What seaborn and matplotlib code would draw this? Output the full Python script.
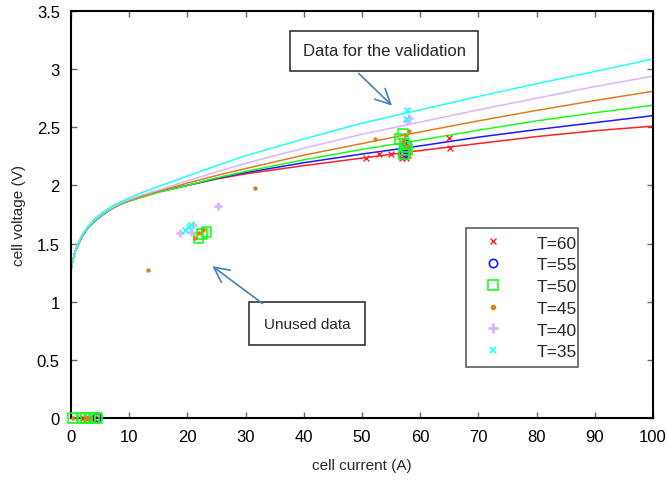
import numpy as np
import pandas as pd
import seaborn as sns
import matplotlib
matplotlib.use("Agg")
import matplotlib.pyplot as plt
from matplotlib.lines import Line2D

# ---- model curves: cell voltage vs current for each temperature ----
curve_current = [0, 0.3, 0.7, 1, 1.5, 2, 3, 4, 5.5, 7, 9, 12, 15, 20, 25, 30,
                 40, 50, 60, 70, 80, 90, 100]
curve_T35 = [1.27, 1.35, 1.43, 1.47, 1.53, 1.58, 1.65, 1.71, 1.77, 1.82, 1.87, 1.935,
             1.99, 2.08, 2.17, 2.255, 2.40, 2.535, 2.65, 2.765, 2.875, 2.98, 3.087]
curve_T40 = [1.27, 1.35, 1.43, 1.47, 1.53, 1.58, 1.65, 1.70, 1.76, 1.81, 1.86, 1.915,
             1.96, 2.04, 2.115, 2.19, 2.32, 2.44, 2.545, 2.65, 2.75, 2.85, 2.94]
curve_T45 = [1.27, 1.35, 1.43, 1.47, 1.53, 1.58, 1.65, 1.70, 1.76, 1.81, 1.855, 1.905,
             1.95, 2.02, 2.085, 2.145, 2.26, 2.36, 2.46, 2.555, 2.645, 2.73, 2.81]
curve_T50 = [1.27, 1.35, 1.43, 1.46, 1.52, 1.57, 1.64, 1.69, 1.75, 1.80, 1.85, 1.895,
             1.94, 2.00, 2.065, 2.12, 2.22, 2.31, 2.39, 2.475, 2.555, 2.625, 2.69]
curve_T55 = [1.27, 1.35, 1.43, 1.46, 1.52, 1.57, 1.64, 1.69, 1.75, 1.80, 1.85, 1.90,
             1.945, 2.00, 2.06, 2.11, 2.195, 2.27, 2.34, 2.415, 2.48, 2.54, 2.60]
curve_T60 = [1.27, 1.35, 1.43, 1.46, 1.52, 1.57, 1.64, 1.69, 1.75, 1.80, 1.85, 1.90,
             1.945, 2.00, 2.055, 2.10, 2.17, 2.235, 2.30, 2.36, 2.42, 2.47, 2.51]

# ---- measured points ----
meas_T60_I = [2.0, 2.5, 3.0, 3.5, 4.0, 50.7, 52.9, 54.9, 56.8, 57.2, 57.6, 57.9, 57.4, 65.1, 64.9]
meas_T60_V = [0, 0, 0, 0, 0, 2.235, 2.27, 2.27, 2.24, 2.25, 2.24, 2.26, 2.28, 2.32, 2.41]
meas_T55_I = [4.5, 57.0, 57.3, 57.6, 57.2, 57.8]
meas_T55_V = [0, 2.26, 2.29, 2.31, 2.33, 2.35]
meas_T50_I = [0.3, 1.8, 2.5, 3.2, 3.9, 4.5, 21.9, 22.5, 23.3, 56.6, 57.0, 57.3, 57.8, 57.5, 57.2]
meas_T50_V = [0, 0, 0, 0, 0, 0, 1.55, 1.58, 1.60, 2.40, 2.44, 2.36, 2.30, 2.33, 2.27]
meas_T45_I = [0.3, 2.5, 3.0, 13.3, 21.3, 22.0, 22.6, 31.6, 52.2, 57.4, 58.0, 57.8, 57.0]
meas_T45_V = [0, 0, 0, 1.27, 1.55, 1.59, 1.62, 1.98, 2.40, 2.43, 2.47, 2.34, 2.38]
meas_T40_I = [18.8, 20.6, 21.0, 25.2, 57.8, 58.0]
meas_T40_V = [1.59, 1.60, 1.66, 1.82, 2.55, 2.58]
meas_T35_I = [19.6, 20.2, 20.7, 57.8, 57.6]
meas_T35_V = [1.62, 1.64, 1.66, 2.65, 2.57]

labels = ["T=60", "T=55", "T=50", "T=45", "T=40", "T=35"]
colors = ["#ff2020", "#1a1aff", "#1aff1a", "#dd7f1a", "#d9b5ff", "#22ffff"]

curves = pd.concat([
    pd.DataFrame({"I": curve_current, "V": v, "T": lab})
    for v, lab in zip([curve_T60, curve_T55, curve_T50, curve_T45, curve_T40, curve_T35], labels)
])
meas = [(meas_T60_I, meas_T60_V), (meas_T55_I, meas_T55_V), (meas_T50_I, meas_T50_V),
        (meas_T45_I, meas_T45_V), (meas_T40_I, meas_T40_V), (meas_T35_I, meas_T35_V)]

sns.set_theme(style="ticks")
plt.rcParams["font.family"] = ["Liberation Sans", "DejaVu Sans"]

fig = plt.figure(figsize=(6.67, 4.81), dpi=100)
ax = fig.add_axes([0.1064, 0.129, 0.8726, 0.846])

sns.lineplot(data=curves, x="I", y="V", hue="T", hue_order=labels,
             palette=dict(zip(labels, colors)), linewidth=1.1, legend=False, ax=ax,
             sort=False)

marker_styles = [
    dict(marker="x", s=18, linewidth=1.0),
    dict(marker="o", s=36, facecolors="none", linewidth=1.2),
    dict(marker="s", s=50, facecolors="none", linewidth=1.2),
    dict(marker="o", s=10, linewidth=0),
    dict(marker="+", s=40, linewidth=2.0),
    dict(marker="x", s=18, linewidth=1.2),
]
handles = []
for (xi, yi), lab, col, st in zip(meas, labels, colors, marker_styles):
    st = dict(st)
    if st.get("facecolors") == "none":
        st.pop("facecolors")
        sns.scatterplot(x=xi, y=yi, ax=ax, facecolor="none", edgecolor=col,
                        clip_on=False, zorder=3, **st)
    else:
        sns.scatterplot(x=xi, y=yi, ax=ax, color=col, edgecolor=col,
                        clip_on=False, zorder=3, **st)
    mk = st["marker"]
    ms = {"x": 4, "o": 6 if lab == "T=55" else 3, "s": 7, "+": 7}[mk]
    handles.append(Line2D([], [], linestyle="none", marker=mk, markersize=ms,
                          markerfacecolor="none" if lab in ("T=55", "T=50") else col,
                          markeredgecolor=col, markeredgewidth=st["linewidth"] or 1,
                          label=lab))

ax.set_xlim(0, 100)
ax.set_ylim(0, 3.5)
ax.set_xticks(np.arange(0, 101, 10))
ax.set_yticks(np.arange(0, 3.51, 0.5))
ax.set_yticklabels(["0", "0.5", "1", "1.5", "2", "2.5", "3", "3.5"])
ax.tick_params(direction="in", top=True, right=True, length=4, width=1,
               labelsize=12, colors="#666666", labelcolor="black")
ax.tick_params(axis="y", pad=8)
ax.tick_params(axis="x", pad=8)
for sp in ax.spines.values():
    sp.set_visible(True)
    sp.set_linewidth(1.5)
    sp.set_color("black")
ax.set_xlabel("cell current (A)", fontsize=11, labelpad=10)
ax.set_ylabel("cell voltage (V)", fontsize=11, labelpad=8)

leg = ax.legend(handles=handles, loc="lower left", bbox_to_anchor=(0.679, 0.125, 0.192, 0.337),
                mode="expand", fontsize=12.5, frameon=True, fancybox=False,
                handletextpad=1.4, borderpad=0.45, labelspacing=0.38, handlelength=2.2,
                borderaxespad=0)
leg.get_frame().set_edgecolor("#333333")
leg.get_frame().set_linewidth(1.2)

arrow_col = "#4a7ebb"
ax.text(53.8, 3.16, "Data for the validation", fontsize=12, ha="center", va="center",
        bbox=dict(boxstyle="square,pad=0.75", facecolor="white", edgecolor="#333333", linewidth=1.2))
ax.annotate("", xy=(55.5, 2.67), xytext=(49.1, 2.98),
            arrowprops=dict(arrowstyle="->,head_length=0.9,head_width=0.45", color=arrow_col, lw=1.2))
ax.text(40.6, 0.81, "Unused data", fontsize=11, ha="center", va="center",
        bbox=dict(boxstyle="square,pad=0.95", facecolor="white", edgecolor="#333333", linewidth=1.2))
ax.annotate("", xy=(23.9, 1.32), xytext=(33.3, 0.97),
            arrowprops=dict(arrowstyle="->,head_length=0.9,head_width=0.45", color=arrow_col, lw=1.2))

fig.savefig("out.png", dpi=100)
